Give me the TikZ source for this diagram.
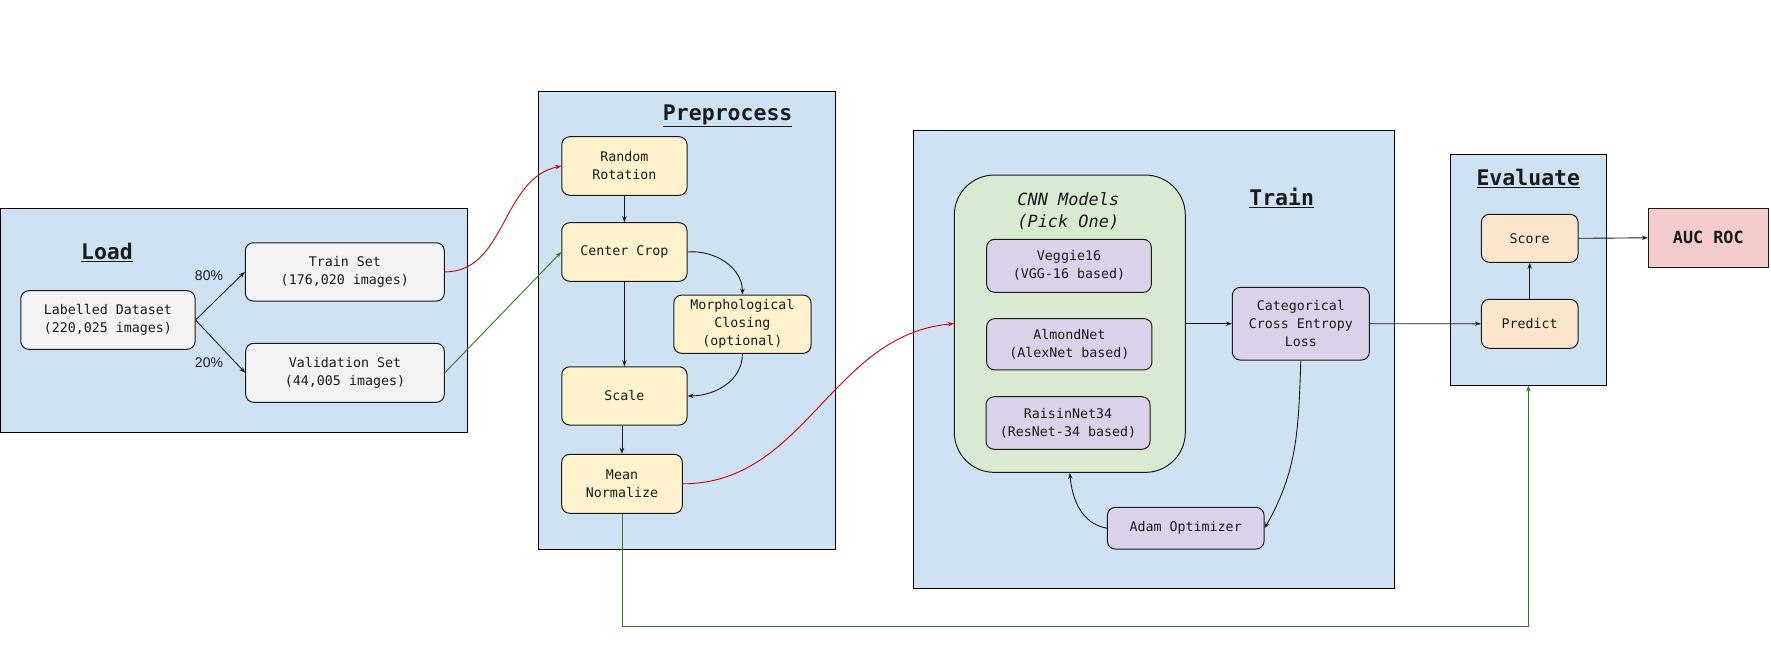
\documentclass[tikz,border=0pt]{standalone}
\usepackage{fontspec}
\setmonofont{DejaVu Sans Mono}
\setsansfont{Liberation Sans}
\usetikzlibrary{arrows.meta}
\definecolor{frameblue}{HTML}{CFE2F3}
\definecolor{boxgray}{HTML}{F3F3F3}
\definecolor{boxyellow}{HTML}{FFF2CC}
\definecolor{boxgreen}{HTML}{D9EAD3}
\definecolor{boxpurple}{HTML}{D9D2E9}
\definecolor{boxorange}{HTML}{FCE5CD}
\definecolor{boxpink}{HTML}{F4CCCC}
\definecolor{linered}{HTML}{CC0000}
\definecolor{linegreen}{HTML}{38761D}
\definecolor{inkdark}{HTML}{1A1A1A}
\newcommand\monotext{\fontsize{13.3}{18}\selectfont\ttfamily}
\newcommand\stagefont{\fontsize{21.5}{24}\selectfont\ttfamily\bfseries}
\tikzset{
  stagebox/.style={draw=black, line width=1pt, fill=frameblue, inner sep=0pt},
  stagetitle/.style={inner sep=0pt, font=\stagefont, text=inkdark},
  procbox/.style={draw=inkdark, line width=1pt, rounded corners=8pt, inner sep=2pt,
    align=center, font=\monotext, text=inkdark},
  graybox/.style={procbox, fill=boxgray},
  yellowbox/.style={procbox, fill=boxyellow},
  purplebox/.style={procbox, fill=boxpurple},
  orangebox/.style={procbox, fill=boxorange},
  conn/.style={-{Stealth[length=6pt,width=4.5pt]}, line width=0.9pt, draw=inkdark},
  redconn/.style={conn, draw=linered},
  greenconn/.style={conn, draw=linegreen},
  pctlabel/.style={inner sep=0pt, font=\fontsize{14}{16}\selectfont\sffamily, text=inkdark}
}
\begin{document}
\begin{tikzpicture}[x=1pt,y=-1pt]
\useasboundingbox (0,0) rectangle (1771,654);
% stage frames
\node[stagebox, minimum width=467, minimum height=224] (loadf) at (234.3,320) {};
\node[stagebox, minimum width=297, minimum height=457.6] (prepf) at (686.8,320.5) {};
\node[stagebox, minimum width=481.2, minimum height=458.3] (trainf) at (1153.9,359.15) {};
\node[stagebox, minimum width=155.3, minimum height=230.7] (evalf) at (1528.35,269.65) {};
% titles
\node[stagetitle] (loadt) at (107,252) {\underline{Load}};
\node[stagetitle] (prept) at (727.7,116) {\underline{Preprocess}};
\node[stagetitle] (traint) at (1281.7,198.3) {\underline{Train}};
\node[stagetitle] (evalt) at (1528.3,178.3) {\underline{Evaluate}};
% load
\node[graybox, minimum width=174.3, minimum height=58.6] (ld) at (107.9,320) {Labelled Dataset\\(220,025 images)};
\node[graybox, minimum width=199, minimum height=58.3] (train) at (344.8,271.9) {Train Set\\(176,020 images)};
\node[graybox, minimum width=198.6, minimum height=59] (val) at (345,372.8) {Validation Set\\(44,005 images)};
\node[pctlabel] (p80) at (209,276) {80\%};
\node[pctlabel] (p20) at (209,363) {20\%};
% preprocess
\node[yellowbox, minimum width=125.3, minimum height=58.6] (rr) at (624.4,166) {Random\\Rotation};
\node[yellowbox, minimum width=125.3, minimum height=58.6] (cc) at (624.4,252) {Center Crop};
\node[yellowbox, minimum width=137.3, minimum height=58.3] (morph) at (742.4,324.2) {Morphological\\Closing\\(optional)};
\node[yellowbox, minimum width=125.3, minimum height=58.3] (scale) at (624.4,395.9) {Scale};
\node[yellowbox, minimum width=120.6, minimum height=59] (mean) at (622,483.8) {Mean\\Normalize};
% train
\node[draw=inkdark, line width=1pt, fill=boxgreen, rounded corners=40pt, minimum width=231, minimum height=297.3] (cnn) at (1069.8,323.7) {};
\node[inner sep=0pt, align=center, font=\fontsize{16.9}{21.7}\selectfont\ttfamily\itshape, text=inkdark] (cnnt) at (1068.3,210.9) {CNN Models\\(Pick One)};
\node[purplebox, minimum width=164.6, minimum height=53] (veg) at (1069,265.8) {Veggie16\\(VGG-16 based)};
\node[purplebox, minimum width=165.3, minimum height=51.3] (alm) at (1069.3,344.3) {AlmondNet\\(AlexNet based)};
\node[purplebox, minimum width=164, minimum height=52.6] (rai) at (1068,423) {RaisinNet34\\(ResNet-34 based)};
\node[purplebox, minimum width=137, minimum height=72.7] (cat) at (1300.8,323.7) {Categorical\\Cross Entropy\\Loss};
\node[purplebox, minimum width=156.7, minimum height=41.7] (adam) at (1185.7,528.2) {Adam Optimizer};
% evaluate
\node[orangebox, minimum width=96.7, minimum height=48] (score) at (1529.7,238.3) {Score};
\node[orangebox, minimum width=96.7, minimum height=49] (pred) at (1529.7,323.8) {Predict};
\node[draw=inkdark, line width=1pt, fill=boxpink, minimum width=120, minimum height=59, inner sep=0pt,
  font=\fontsize{16.8}{18}\selectfont\ttfamily\bfseries, text=inkdark] (auc) at (1708.3,237.8) {AUC ROC};
% connectors
\draw[conn] (ld.east) -- (train.west);
\draw[conn] (ld.east) -- (val.west);
\draw[redconn] (train.east) to[out=0,in=192] (rr.west);
\draw[greenconn] (val.east) -- (cc.west);
\draw[conn] (rr.south) -- (cc.north);
\draw[conn] (cc.south) -- (scale.north);
\draw[conn] (cc.east) to[out=5,in=90] (morph.north);
\draw[conn] (morph.south) to[out=-90,in=0] (scale.east);
\draw[conn] (scale.south -| mean.north) -- (mean.north);
\draw[redconn] (mean.east) to[out=0,in=185] (cnn.west);
\draw[conn] (cnn.east) -- (cat.west);
\draw[conn] (cat.south) to[out=-92,in=60] (adam.east);
\draw[conn] (adam.west) to[out=170,in=-85] (cnn.south);
\draw[conn] (cat.east) -- (pred.west);
\draw[conn] (pred.north) -- (score.south);
\draw[conn] (score.east) -- (auc.west);
\coordinate (gturn) at (622,626);
\draw[greenconn] (mean.south) -- (mean.south |- gturn) -| (evalf.south);
\end{tikzpicture}
\end{document}
